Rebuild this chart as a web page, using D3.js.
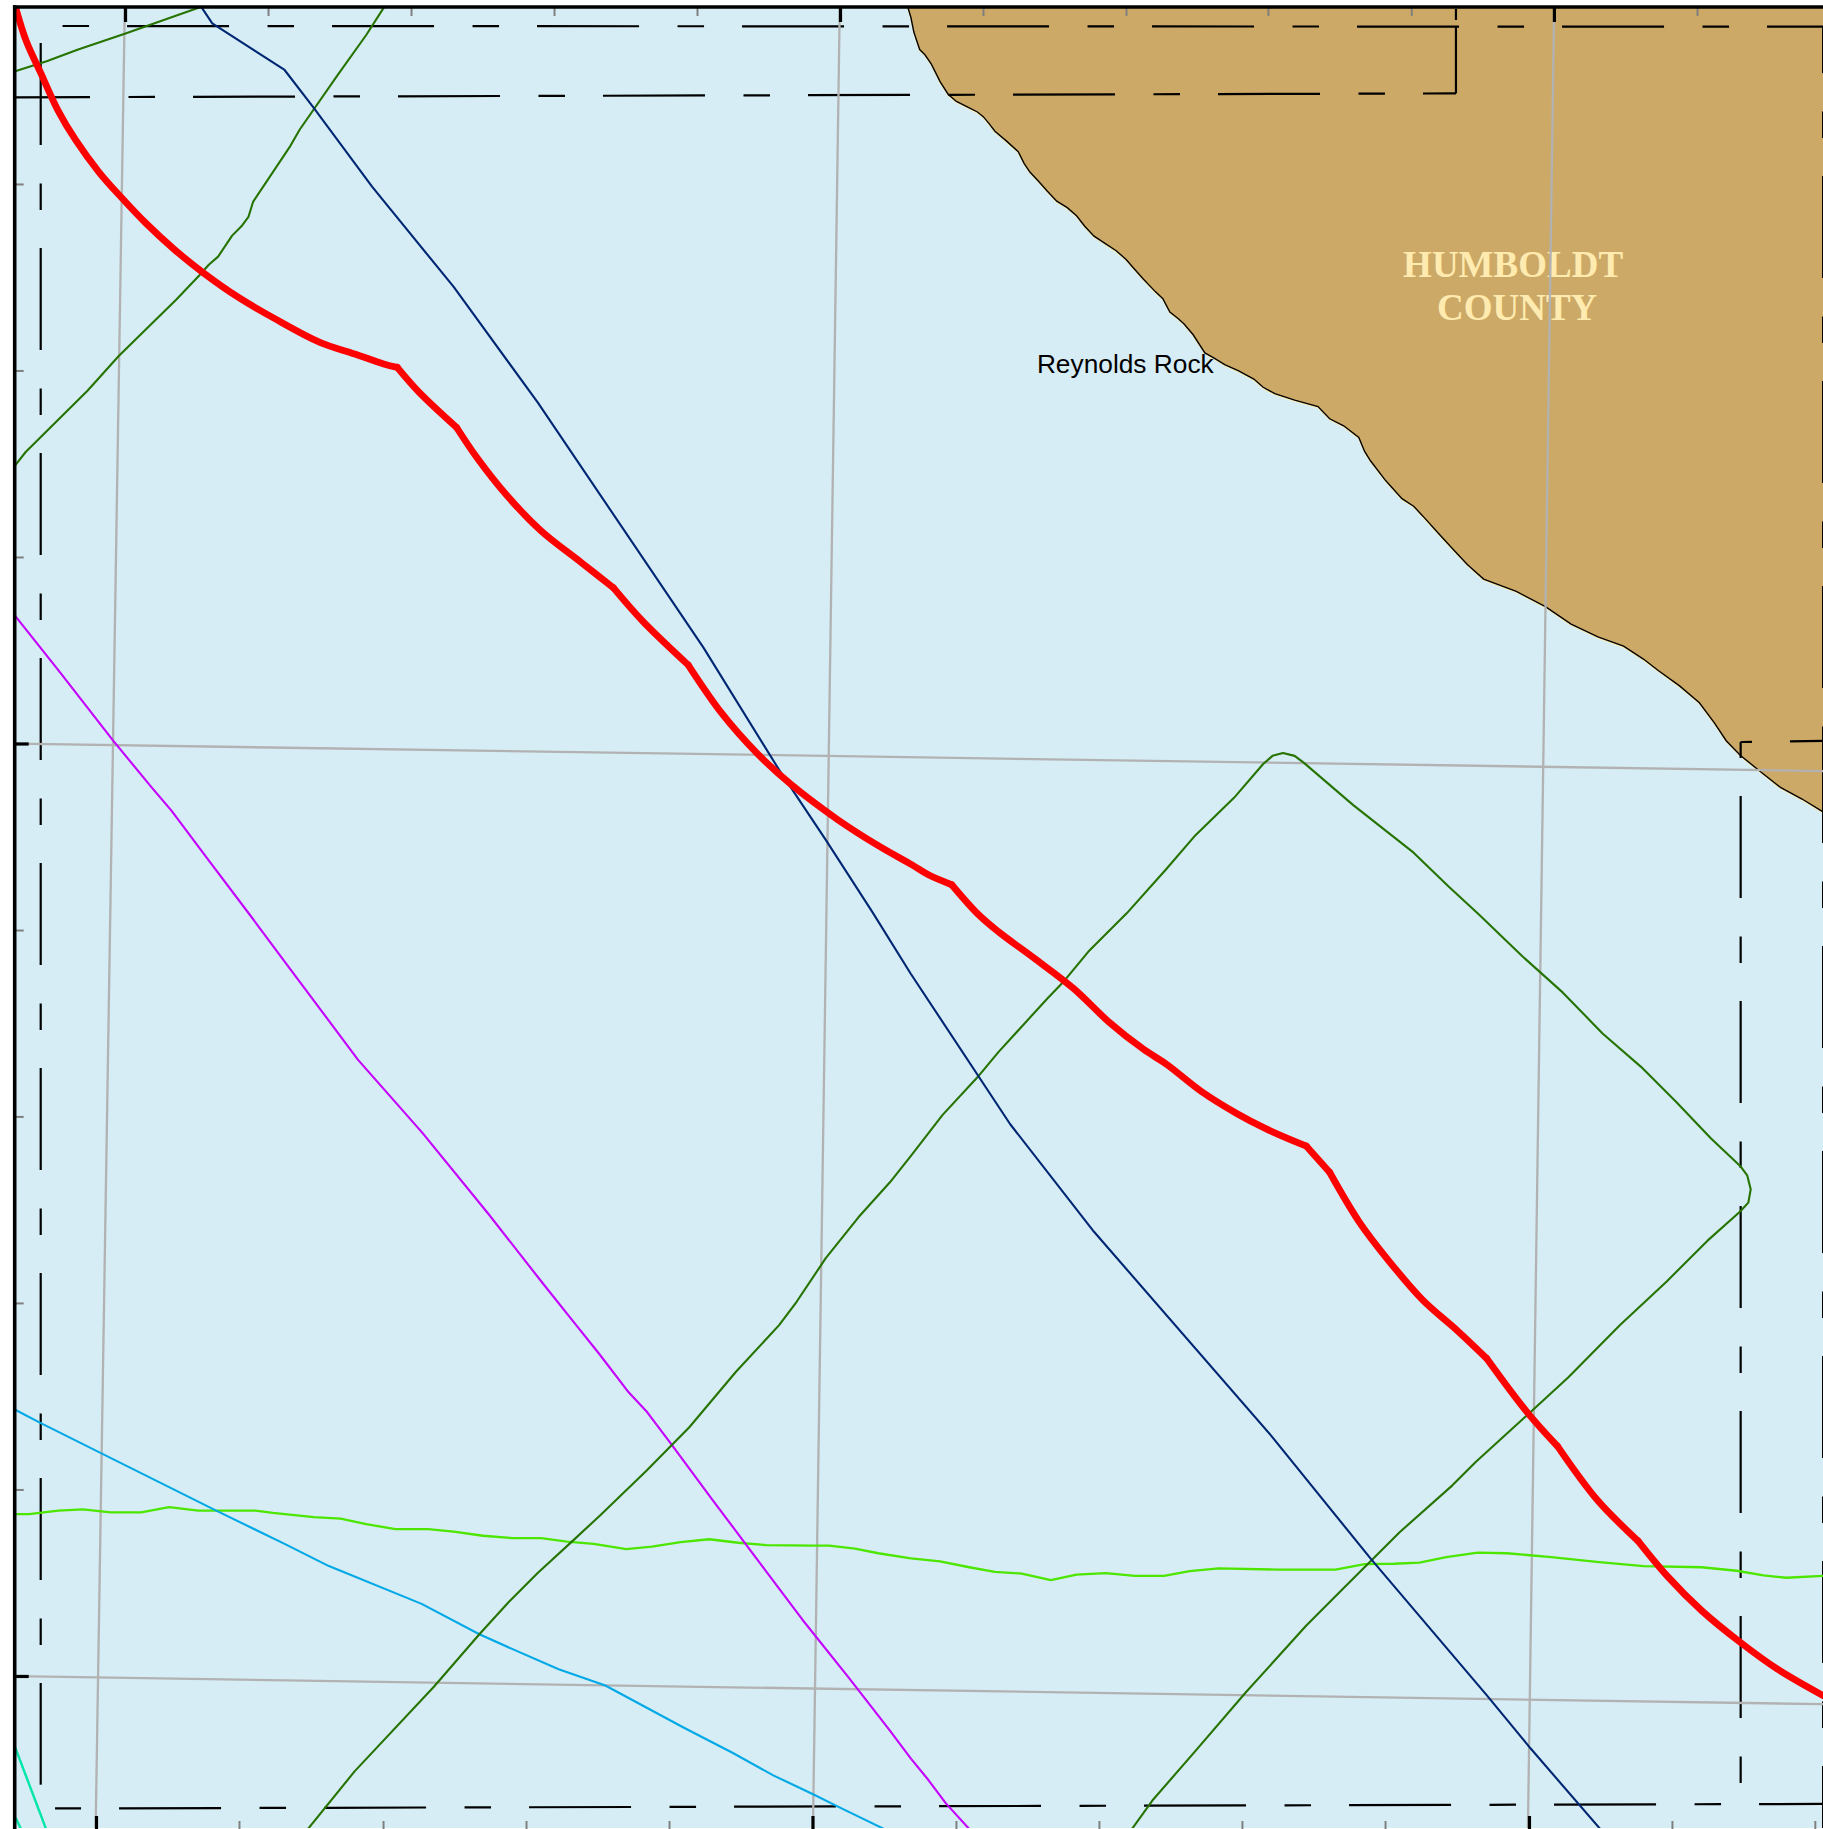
<!DOCTYPE html>
<html>
<head>
<meta charset="utf-8">
<title>Reynolds Rock</title>
<script src="https://cdn.jsdelivr.net/npm/d3@7"></script>
<style>
  html, body { margin: 0; padding: 0; background: #fff; overflow: hidden; }
  svg { display: block; }
</style>
</head>
<body>
<div id="chart"></div>
<script>
//
//    Track chart data, all points are [map x, map y]
//
const redTrack = [[13,5],[22.4,35],[34.9,62.5],[49.9,95],[64.8,120],[84.8,147.5],[104.7,170],[124.7,191],[149.6,214],[174.5,234],[204.5,255],[234.4,272.5],[274.3,293.5],[304.2,303.5],[329,312],[340.6,315],[359,336],[391.5,366.5],[409,392.5],[433.9,424],[463.8,455],[498.7,482.5],[526,504],[551,532.5],[590,570],[618.4,611],[648.3,645],[678.2,672.5],[718,702.5],[753,725],[782,741.5],[796,750],[816,758.5],[838.4,783.6],[855.8,798.6],[888.2,822.6],[920.6,847.6],[950.6,876],[980.5,899.6],[1000.4,912.6],[1030.4,936],[1060.3,954.6],[1085.2,967.6],[1120.1,982.6],[1140,1005],[1165,1047],[1190,1080],[1219.9,1114.6],[1249.8,1141],[1274.7,1164.6],[1309.6,1211],[1335.5,1240],[1369.5,1286],[1404.4,1321],[1429.3,1351],[1459.2,1381],[1491.6,1407.6],[1524,1431],[1563,1453.6]]
// points on the red track where it really turns a corner
const redCorners = [340.6, 391.5, 526, 590, 816, 1120.1, 1140, 1274.7, 1335.5, 1404.4]
const navyTrack = [[172,5],[182,20],[244,60],[269,92.5],[319,160],[389,246],[461,345],[603,555],[668,660],[708,720],[748,782],[781,835],[866,963.6],[938,1056],[1090,1231],[1175,1336],[1275,1453.6],[1312,1498.6],[1372,1568]]
const greenTopLeft = [[13,61],[40,52.5],[67,42.5],[107,29],[172,6]]
const greenUpper = [[13,399],[22,387.5],[75,335],[102,305],[151,257],[171,236],[179,227],[187,220],[199,202],[207,194],[213,186],[217,173],[249,125],[257,111],[289,65],[314,30],[330,5]]
const greenLoop = [[264,1568],[304,1518.6],[372,1446],[411,1401],[436,1373.6],[461,1348.6],[491,1321],[514,1299.6],[554,1261],[591,1223.6],[631,1176],[668,1136],[683,1116],[708,1078.6],[736,1043.6],[763,1013.6],[781,991],[808,956],[838,923.6],[856,902],[898,856],[911,842.6],[933,816],[966,783],[1000,745],[1025,716],[1058,684],[1083,655],[1091,648],[1100,645.5],[1110,648],[1118,654],[1160,690],[1212,731],[1242,760],[1268,784],[1305,819.6],[1340,851],[1374,886],[1407,914.6],[1437,944.6],[1467,976],[1492,999.6],[1498,1007.6],[1501,1019.6],[1499,1031],[1492,1038.6],[1464,1063.6],[1429,1098.6],[1389,1136],[1344.5,1181],[1310,1212.6],[1265,1253.6],[1245,1273.6],[1200,1313.6],[1152.5,1361],[1120,1393.6],[1068,1451],[1025,1501],[988,1543.6],[970.5,1568]]
const purpleTrack = [[13,528],[52,577],[97,635],[130,675],[147,695],[177,735],[214,784],[249,831],[307,908.6],[362,971],[419,1041],[466,1101],[494,1136],[514,1161],[539,1193.6],[554,1209.6],[576,1238.6],[611,1286],[658,1348.6],[688,1388.6],[728,1438.6],[763,1483.6],[781,1507.6],[796,1526],[811,1546],[831,1568]]
const cyanTrack = [[13,1208.6],[35,1220],[87,1246],[184.5,1294.6],[244,1323.6],[282,1342.6],[361.5,1375],[411,1401],[439,1413.6],[479,1431],[519,1445],[586,1481],[628,1502.6],[663,1522],[698,1538.6],[718,1548.6],[758,1568]]
const limeTrack = [[13,1298],[25,1298],[50,1295],[71,1294],[95,1296.6],[121,1296.6],[145,1292],[170,1295],[219,1295],[234,1297],[269,1300.6],[292,1302],[314,1306.6],[339,1311],[367,1311],[389,1313],[414,1316.6],[439,1318.6],[464,1318.6],[486,1321.6],[509,1323.6],[537,1328],[559,1326],[583.5,1322],[608,1319.6],[633,1322.6],[657,1324.6],[698,1325],[711,1325],[733,1327.6],[753,1331.6],[781,1336],[806,1338.6],[831,1343.6],[853,1347.6],[876,1349],[901,1354.6],[923,1350],[948,1348.6],[973,1351],[998,1351],[1020,1347],[1045,1344.6],[1095,1345.6],[1145,1345.6],[1170,1341],[1195,1340.6],[1217,1339.6],[1240,1335],[1267,1331],[1292,1331.6],[1330,1335],[1369,1339],[1409,1342.6],[1459,1343.6],[1489,1346.6],[1512,1350.6],[1531.5,1352.6],[1563,1351]]
const tealTrack = [[13,1498],[39.5,1568]]
const tealCorner = [[13.5,1558.5],[18,1568]]

const coastline = [[778,5],[781,15],[783.5,27.5],[788.5,42.5],[793,47],[798.5,55],[806,70],[813,81],[820,87],[831,92.5],[838,96],[843,100],[848,106],[853,112.5],[863,121],[873,130],[878,140],[883,147.5],[890,155],[898,164],[906,172.5],[915,178],[923,185],[930,194],[938,202.5],[948,209],[957,215],[965.5,222.5],[972,230],[980,239],[990.5,250],[997,256],[1003,267.5],[1010,273],[1015,277.5],[1023,287],[1033,302.5],[1041,307],[1050,312.5],[1062,318],[1075,325],[1083,332],[1093,337.5],[1110,343],[1130,348.5],[1140,359],[1152,365],[1165,375],[1170,387],[1175,395],[1188,412],[1202,427.5],[1212,434],[1220,442.5],[1233,457],[1245,470],[1258,484],[1272,496.5],[1300,507],[1325,520],[1347,535],[1370,546],[1392,554],[1409,565],[1422,575],[1440,588],[1457,602.5],[1470,620],[1480,635],[1492,647.5],[1510,662],[1526.5,675],[1545,685],[1563,696]]

const gridLines = [[[107,5],[82,1568]],[[720,5],[697,1568]],[[1332.5,5],[1310,1568]],[[13,637.5],[1563,661]],[[13,1437],[1563,1461]]]

const dashedBoundaries = [[[53.2,22.3],[1563,22.9]],[[-10.3,83.5],[1248.3,80.1]],[[34.9,36.9],[34.9,1530]],[[47.2,1550.4],[1563,1546.5]],[[1492.4,636.1],[1492.4,1529.4]],[[1492.4,636.1],[1563,635.2]],[[1563.1,22.3],[1563.1,636]],[[1563.1,635.2],[1563.1,1568]]]
const boundaryPhases = [65, 0, 0, 64, 54, 49.3, 150, 205]
const solidBoundaries = [[[1248.3,80.1],[1248.3,22.3]],[[1248.3,7.7],[1248.3,17.1]]]

const topMajorTicks = [107.2, 720.2, 1332.3]
const topMinorTicks = [229.8, 352.4, 475, 597.6, 842.8, 965.4, 1087.1, 1210, 1455]
const leftMajorTicks = [637.4, 1436.8]
const leftMinorTicks = [157.7, 317.6, 477.5, 797.3, 957.1, 1117, 1276.9]
const bottomMajorTicks = [82.3, 696.6, 1310.9]
const bottomMinorTicks = [204.9, 328.4, 451, 573.6, 819.6, 942.2, 1064.8, 1187.5, 1433.5, 1556]

const countyLabel = ['HUMBOLDT', 'COUNTY']
const countyLabelX = [1203, 1232]
const countyLabelY = [237.2, 274.3]
const placeLabel = 'Reynolds Rock'

const width = 1823
const height = 1829
const dashCycle = [102, 38.5, 26.5, 38]

const x = d3.scaleLinear().domain([0, 1563]).range([0, width])
const y = d3.scaleLinear().domain([0, 1568]).range([0, height])
const line = d3.line().x(d => x(d[0])).y(d => y(d[1]))
const smoothLine = d3.line().x(d => x(d[0])).y(d => y(d[1])).curve(d3.curveCatmullRom.alpha(0.5))

const svg = d3.select('#chart').append('svg').attr('width', width).attr('height', height)

svg.append('clipPath').attr('id', 'plot')
  .append('rect').attr('x', 14).attr('y', 6).attr('width', width - 14).attr('height', height - 7)

const plot = svg.append('g').attr('clip-path', 'url(#plot)')

// water and land
plot.append('rect').attr('x', 14).attr('y', 6).attr('width', width).attr('height', height - 7).attr('fill', '#d6edf5')
plot.append('path').datum(coastline).attr('d', line)
  .attr('transform', 'translate(0,1)')
  .attr('fill', 'none').attr('stroke', '#ffebaf').attr('stroke-width', 1.5)
plot.append('path').datum(coastline.concat([[1570, 696], [1570, 0], [778, 0]])).attr('d', d => line(d) + 'Z')
  .attr('fill', '#cca966')
plot.append('path').datum(coastline).attr('d', line)
  .attr('fill', 'none').attr('stroke', '#000').attr('stroke-width', 1.4)

// county text sits under the graticule
plot.selectAll('text.county').data(countyLabel).enter().append('text')
  .attr('class', 'county')
  .attr('x', (d, i) => x(countyLabelX[i]))
  .attr('y', (d, i) => y(countyLabelY[i]))
  .attr('font-family', '"Liberation Serif", serif')
  .attr('font-weight', 'bold')
  .attr('font-size', 37)
  .attr('fill', '#ffebaf')
  .text(d => d)

plot.append('text')
  .attr('x', x(889)).attr('y', y(320))
  .attr('font-family', '"Liberation Sans", sans-serif')
  .attr('font-size', 26.3)
  .attr('fill', '#000')
  .text(placeLabel)

// dashed section boundaries
plot.selectAll('path.dashed').data(dashedBoundaries).enter().append('path')
  .attr('class', 'dashed')
  .attr('d', line)
  .attr('fill', 'none').attr('stroke', '#000').attr('stroke-width', 2.2)
  .attr('stroke-dasharray', dashCycle.join(' '))
  .attr('stroke-dashoffset', (d, i) => -boundaryPhases[i])
plot.selectAll('path.solid').data(solidBoundaries).enter().append('path')
  .attr('class', 'solid')
  .attr('d', line)
  .attr('fill', 'none').attr('stroke', '#000').attr('stroke-width', 2.2)

// graticule
plot.selectAll('path.grid').data(gridLines).enter().append('path')
  .attr('class', 'grid')
  .attr('d', line)
  .attr('fill', 'none').attr('stroke', '#b2b2b2').attr('stroke-width', 2.3)

// thin tracks first so the red one ends up on top
const tracks = [tealTrack, tealCorner, limeTrack, cyanTrack, purpleTrack, greenTopLeft, greenUpper, greenLoop, navyTrack]
const trackColours = ['#00e6a9', '#00e6a9', '#4ce600', '#00a9e6', '#c500ff', '#267300', '#267300', '#267300', '#002673']
const trackWidths = [2.4, 2.4, 2.3, 2.1, 2.1, 2.1, 2.1, 2.1, 2.1]
plot.selectAll('path.track').data(tracks).enter().append('path')
  .attr('class', 'track')
  .attr('d', line)
  .attr('fill', 'none')
  .attr('stroke', (d, i) => trackColours[i])
  .attr('stroke-width', (d, i) => trackWidths[i])
  .attr('stroke-linejoin', 'round')

// the red track bends smoothly between its corners
const redRuns = [[]]
redTrack.forEach(p => {
  redRuns[redRuns.length - 1].push(p)
  if (redCorners.includes(p[0])) redRuns.push([p])
})
plot.selectAll('path.red').data(redRuns).enter().append('path')
  .attr('class', 'red')
  .attr('d', smoothLine)
  .attr('fill', 'none')
  .attr('stroke', '#ff0000')
  .attr('stroke-width', 6.8)
  .attr('stroke-linecap', 'round')

// frame and ticks
function addAxis (axis, translate, size, colour, strokeWidth) {
  const g = svg.append('g')
    .attr('transform', translate)
    .call(axis.tickSizeInner(size).tickSizeOuter(0).tickFormat(''))
  g.selectAll('.tick line').attr('stroke', colour).attr('stroke-width', strokeWidth)
  g.select('.domain').remove()
}

addAxis(d3.axisTop(x).tickValues(topMinorTicks), 'translate(0,7)', -9, '#808080', 2)
addAxis(d3.axisTop(x).tickValues(topMajorTicks), 'translate(0,7)', -15, '#000', 3.2)
addAxis(d3.axisLeft(y).tickValues(leftMinorTicks), 'translate(14.7,0)', -9, '#808080', 2)
addAxis(d3.axisLeft(y).tickValues(leftMajorTicks), 'translate(14.7,0)', -14, '#000', 3.2)
addAxis(d3.axisBottom(x).tickValues(bottomMinorTicks), 'translate(0,1829)', -8, '#808080', 2)
addAxis(d3.axisBottom(x).tickValues(bottomMajorTicks), 'translate(0,1829)', -13, '#000', 3.2)

// thick left and top frame lines
svg.append('g').selectAll('path').data([[[12.6, 4.5], [12.6, 1568]], [[11.1, 6], [1563, 6]]]).enter().append('path')
  .attr('d', line)
  .attr('fill', 'none').attr('stroke', '#000').attr('stroke-width', 3.6)
</script>
</body>
</html>
